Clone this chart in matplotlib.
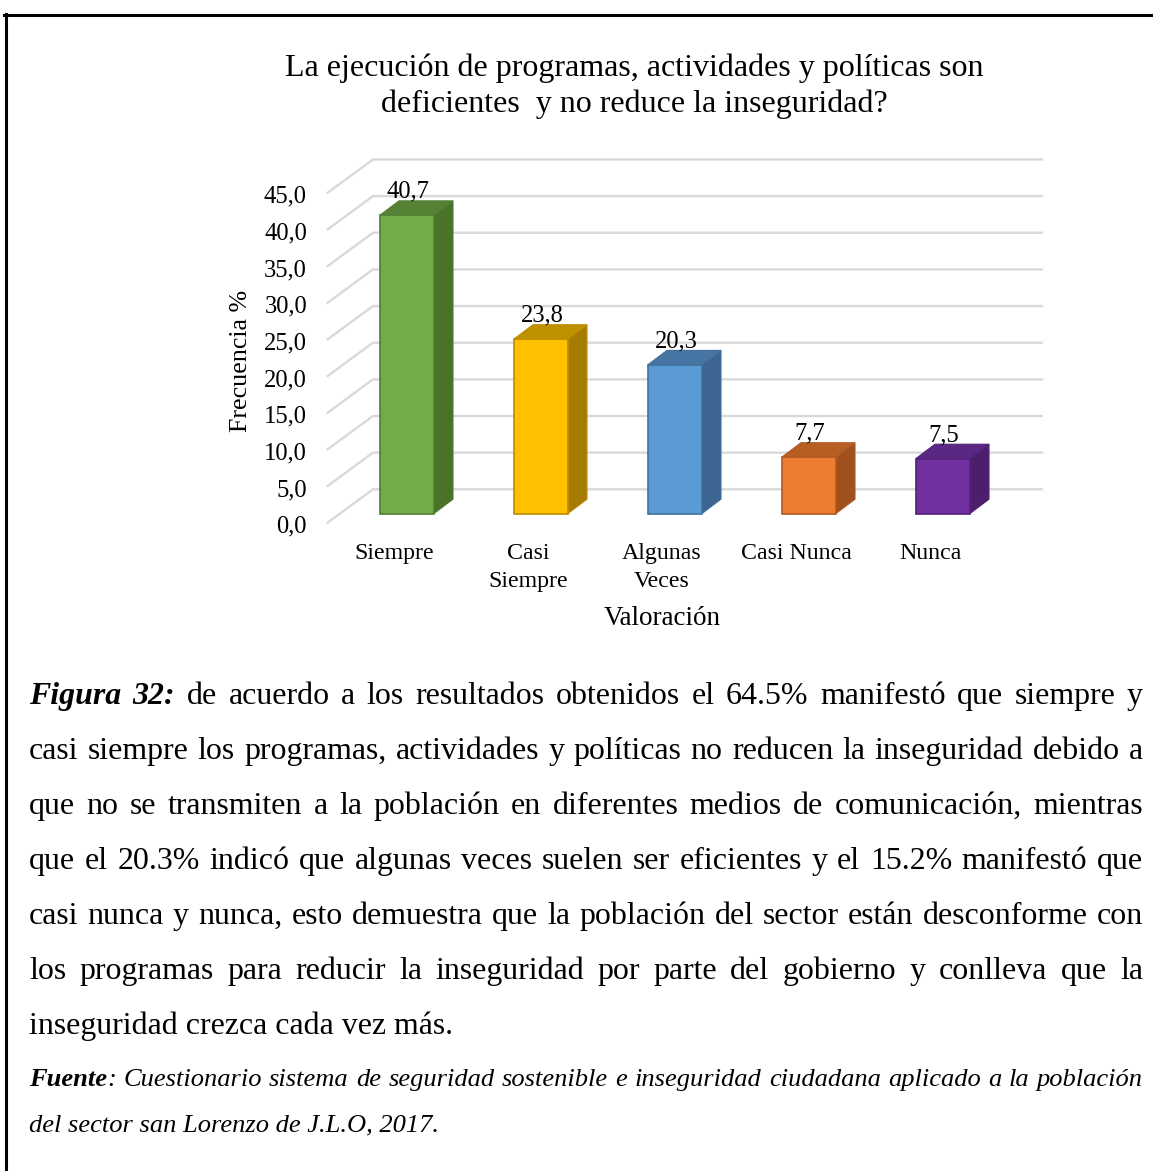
import matplotlib
matplotlib.use('Agg')
import matplotlib.pyplot as plt
from matplotlib.patches import Polygon, Rectangle
from matplotlib.lines import Line2D

# ---------------- data ----------------
title_lines = ["La ejecución de programas, actividades y políticas son",
               "deficientes  y no reduce la inseguridad?"]
categories = ["Siempre", "Casi\nSiempre", "Algunas\nVeces", "Casi Nunca", "Nunca"]
values = [40.7, 23.8, 20.3, 7.7, 7.5]
value_labels = ["40,7", "23,8", "20,3", "7,7", "7,5"]
yticks = [0, 5, 10, 15, 20, 25, 30, 35, 40, 45]
ytick_labels = ["0,0", "5,0", "10,0", "15,0", "20,0", "25,0", "30,0", "35,0", "40,0", "45,0"]
ylabel = "Frecuencia %"
xlabel = "Valoración"
front_colors = ["#70AD47", "#FFC000", "#5B9BD5", "#ED7D31", "#7030A0"]
side_colors = ["#4A7229", "#A67C00", "#3C6591", "#A0501D", "#4B1F6B"]
top_colors = ["#558235", "#BF9000", "#4675A4", "#B75E22", "#5A2784"]
edge_colors = ["#507E32", "#BC8C00", "#41719C", "#AE5A21", "#52237A"]

paragraph = [
    [[("Figura", "bi")], [("32:", "bi")], [("de", "r")], [("acuerdo", "r")], [("a", "r")], [("los", "r")],
     [("resultados", "r")], [("obtenidos", "r")], [("el", "r")], [("64.5%", "r")], [("manifestó", "r")],
     [("que", "r")], [("siempre", "r")], [("y", "r")]],
    "casi siempre los programas, actividades y políticas no reducen la inseguridad debido a",
    "que no se transmiten a la población en diferentes medios de comunicación, mientras",
    "que el 20.3% indicó que algunas veces suelen ser eficientes y el 15.2% manifestó que",
    "casi nunca y nunca, esto demuestra que la población del sector  están desconforme con",
    "los programas para reducir la inseguridad por parte del gobierno y conlleva que la",
]
paragraph_last = "inseguridad crezca cada vez más."
fuente_line1 = "Cuestionario sistema de seguridad sostenible e inseguridad ciudadana aplicado a la población"
fuente_line2 = "del sector san Lorenzo de J.L.O, 2017."

# ---------------- figure ----------------
W, H = 1153, 1171
SERIF = "Liberation Serif"
fig = plt.figure(figsize=(W / 100, H / 100), dpi=100)
fig.patch.set_facecolor("white")
renderer = fig.canvas.get_renderer()

STYLE = {"r": dict(style="normal", weight="normal"),
         "i": dict(style="italic", weight="normal"),
         "bi": dict(style="italic", weight="bold")}


def fx(px):
    return px / W


def fy(py):
    return 1 - py / H


def text_w(s, size, sty="r", rotation=0):
    t = fig.text(0, 0, s, fontsize=size, family=SERIF, rotation=rotation, **STYLE[sty])
    bb = t.get_window_extent(renderer)
    t.remove()
    return bb.height if rotation else bb.width


def fit(s, target, sty="r", base=16):
    return base * target / text_w(s, base, sty)


# frame
fig.add_artist(Line2D([fx(4), fx(W)], [fy(14.5), fy(14.5)], color="black", lw=2.2))
fig.add_artist(Line2D([fx(5.5), fx(5.5)], [fy(13.5), fy(H)], color="black", lw=2.2))

# ---------------- chart ----------------
PX_X = 134.0          # pixels per category
X0 = 407.0            # pixel of first bar center
PX_Y = 7.33           # pixels per unit
Y0 = 513.5            # pixel of bar base
ax_l, ax_r, ax_t, ax_b = 300, 1060, 140, 545
ax = fig.add_axes([fx(ax_l), fy(ax_b), (ax_r - ax_l) / W, (ax_b - ax_t) / H])
ax.set_xlim((ax_l - X0) / PX_X, (ax_r - X0) / PX_X)
ax.set_ylim((Y0 - ax_b) / PX_Y, (Y0 - ax_t) / PX_Y)
ax.axis("off")

x_front = (326.7 - X0) / PX_X
x_back = (373.0 - X0) / PX_X
x_end = (1043.0 - X0) / PX_X
d_front = -9.8 / PX_Y
d_back = 24.2 / PX_Y
for v in yticks:
    ax.plot([x_front, x_back, x_end], [v + d_front, v + d_back, v + d_back],
            color="#D9D9D9", lw=1.7, zorder=1, solid_capstyle="butt")

tick_size = fit("45,0", 43)
for v, lab in zip(yticks, ytick_labels):
    ax.text((307 - X0) / PX_X, v + d_front - 3.5 / PX_Y, lab, ha="right", va="center",
            fontsize=tick_size, family=SERIF)

hw = 27.0 / PX_X
dx = 19.0 / PX_X
dy = 14.3 / PX_Y
for i, v in enumerate(values):
    xl, xr = i - hw, i + hw
    ax.add_patch(Polygon([(xr, 0), (xr + dx, dy), (xr + dx, v + dy), (xr, v)], closed=True,
                         facecolor=side_colors[i], edgecolor=edge_colors[i], lw=0.8, zorder=3))
    ax.add_patch(Polygon([(xl, v), (xr, v), (xr + dx, v + dy), (xl + dx, v + dy)], closed=True,
                         facecolor=top_colors[i], edgecolor=edge_colors[i], lw=0.8, zorder=3))
    ax.add_patch(Rectangle((xl, 0), 2 * hw, v, facecolor=front_colors[i],
                           edgecolor=edge_colors[i], lw=1.2, zorder=4))
    ax.text(i + 1.0 / PX_X, v + (14.3 + 9.0) / PX_Y, value_labels[i], ha="center", va="center",
            fontsize=tick_size, family=SERIF, zorder=5)

cat_size = fit("Casi Nunca", 111)
for i, c in enumerate(categories):
    for k, part in enumerate(c.split("\n")):
        fig.text(fx(X0 + PX_X * i - 13), fy(559 + 28 * k), part, ha="center", va="baseline",
                 fontsize=cat_size, family=SERIF)
xl_size = fit(xlabel, 117)
fig.text(fx(662), fy(625), xlabel, ha="center", va="baseline", fontsize=xl_size, family=SERIF)
yl_size = xl_size * 142 / text_w(ylabel, xl_size, rotation=90)
fig.text(fx(241), fy(361), ylabel, ha="center", va="center", rotation=90,
         fontsize=yl_size, family=SERIF)

title_size = fit(title_lines[0], 697)
fig.text(fx(634.5), fy(76), title_lines[0], ha="center", va="baseline", fontsize=title_size, family=SERIF)
fig.text(fx(634.5), fy(112), title_lines[1], ha="center", va="baseline", fontsize=title_size, family=SERIF)

# ---------------- caption paragraph ----------------
LEFT, RIGHT = 29, 1143
par_size = fit(paragraph[1], 1100)


def to_words(line):
    if isinstance(line, str):
        return [[(w, "r")] for w in line.split()]
    return line


def justify(words, base_px, size):
    widths = [sum(text_w(s, size, st) for s, st in w) for w in words]
    gap = (RIGHT - LEFT - sum(widths)) / (len(words) - 1)
    x = LEFT
    for w, wd in zip(words, widths):
        xx = x
        for s, st in w:
            fig.text(fx(xx), fy(base_px), s, ha="left", va="baseline", fontsize=size,
                     family=SERIF, **STYLE[st])
            xx += text_w(s, size, st)
        x += wd + gap


baselines = [704, 759, 814, 869, 924, 979, 1034]
for line, b in zip(paragraph, baselines):
    justify(to_words(line), b, par_size)
fig.text(fx(LEFT), fy(baselines[6]), paragraph_last, ha="left", va="baseline",
         fontsize=par_size, family=SERIF)

f_size = fit("Fuente: " + fuente_line1, 1100, "i")
fwords = [[("Fuente", "bi"), (":", "i")]] + [[(w, "i")] for w in fuente_line1.split()]
justify(fwords, 1086, f_size)
fig.text(fx(LEFT), fy(1131), fuente_line2, ha="left", va="baseline", fontsize=f_size,
         family=SERIF, **STYLE["i"])

fig.savefig("out.png", dpi=100, facecolor="white")
